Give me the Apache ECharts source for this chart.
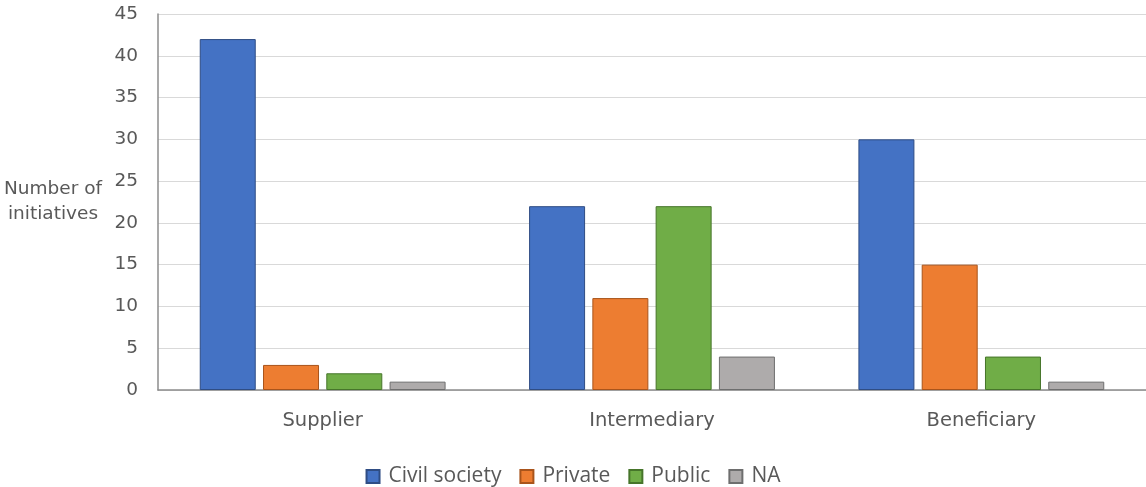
<!DOCTYPE html>
<html>
<head>
<meta charset="utf-8">
<script src="https://cdn.jsdelivr.net/npm/echarts@6/dist/echarts.min.js"></script>
<style>
html,body{margin:0;padding:0;background:#fff;}
#chart{width:1146px;height:487px;}
</style>
</head>
<body>
<div id="chart"></div>
<script>
// Initiatives by role in the chain and type of organisation
const categories = ['Supplier', 'Intermediary', 'Beneficiary'];
const civilSociety = [42, 22, 30];
const privateSector = [3, 11, 15];
const publicSector = [2, 22, 4];
const notAvailable = [1, 4, 1];
const yTicks = { min: 0, max: 45, interval: 5 };

const chart = echarts.init(document.getElementById('chart'));
const font = 'DejaVu Sans, Verdana, sans-serif';

function barSeries(name, data, fill, stroke) {
  return {
    name: name,
    type: 'bar',
    data: data,
    barWidth: 56,
    barGap: '13%',
    itemStyle: { color: fill, borderColor: stroke, borderWidth: 1 }
  };
}

chart.setOption({
  animation: false,
  grid: { left: 158, right: 0, top: 14, bottom: 97, containLabel: false },
  legend: {
    top: 461,
    left: 'center',
    itemWidth: 13,
    itemHeight: 13,
    itemGap: 18,
    textStyle: { fontFamily: 'Open Sans, sans-serif', fontSize: 21, color: '#595959', padding: [0, 0, 0, 4] },
    icon: 'rect'
  },
  xAxis: {
    type: 'category',
    data: categories,
    axisLine: { lineStyle: { color: '#8c8c8c', width: 1.5 } },
    axisTick: { show: false },
    axisLabel: { fontFamily: font, fontSize: 19.5, color: '#595959', margin: 21 }
  },
  yAxis: {
    type: 'value',
    min: yTicks.min,
    max: yTicks.max,
    interval: yTicks.interval,
    name: 'Number of\ninitiatives',
    nameLocation: 'middle',
    nameRotate: 0,
    nameGap: 105,
    nameTextStyle: { fontFamily: font, fontSize: 18.5, color: '#595959', lineHeight: 25, align: 'center' },
    axisLine: { show: true, lineStyle: { color: '#8c8c8c', width: 1.5 } },
    axisTick: { show: false },
    axisLabel: { fontFamily: font, fontSize: 18.5, color: '#595959', margin: 20 },
    splitLine: { lineStyle: { color: '#d9d9d9', width: 1 } }
  },
  series: [
    barSeries('Civil society', civilSociety, '#4472C4', '#2F4D84'),
    barSeries('Private', privateSector, '#ED7D31', '#A9541B'),
    barSeries('Public', publicSector, '#70AD47', '#46752A'),
    barSeries('NA', notAvailable, '#AEABAB', '#6E6E6E')
  ]
});
</script>
</body>
</html>
